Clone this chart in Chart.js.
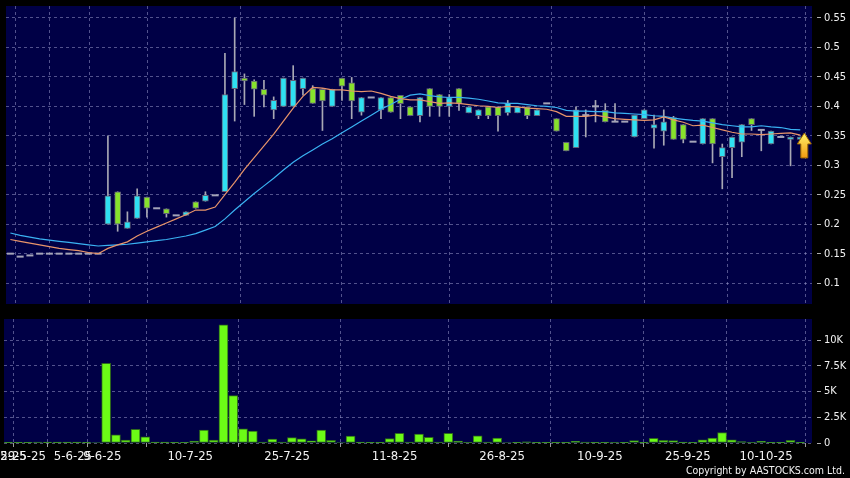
<!DOCTYPE html>
<html>
<head>
<meta charset="utf-8">
<script src="https://cdn.jsdelivr.net/npm/chart.js@4.4.1/dist/chart.umd.min.js"></script>
<style>
    html, body { margin: 0; padding: 0; background: #000; }
    body { width: 850px; height: 478px; position: relative; overflow: hidden; }
    #price { position: absolute; left: 0; top: 0; }
    #vol { position: absolute; left: 0; top: 319px; }
    #copy {
        position: absolute; right: 5px; top: 464px; line-height: 12px;
        color: #f2f2f2; font: 10.5px 'DejaVu Sans Condensed', 'DejaVu Sans', sans-serif;
    }
</style>
</head>
<body>
<canvas id="price" width="850" height="310"></canvas>
<canvas id="vol" width="850" height="159"></canvas>
<div id="copy">Copyright by AASTOCKS.com Ltd.</div>
<script>
'use strict';

// daily OHLC, oldest first
const openP = [
    0.150, 0.145, 0.147, 0.150, 0.150, 0.150, 0.150, 0.150, 0.150, 0.150,
    0.200, 0.255, 0.193, 0.210, 0.246, 0.227, 0.226, 0.215, 0.215, 0.238,
    0.239, 0.249, 0.255, 0.430, 0.448, 0.443, 0.429, 0.394, 0.400, 0.400,
    0.430, 0.430, 0.429, 0.400, 0.448, 0.440, 0.390, 0.415, 0.394, 0.415,
    0.4185, 0.399, 0.384, 0.430, 0.420, 0.400, 0.430, 0.389, 0.384, 0.399,
    0.399, 0.389, 0.389, 0.399, 0.384, 0.405, 0.379, 0.339, 0.330, 0.385,
    0.400, 0.393, 0.374, 0.374, 0.348, 0.379, 0.363, 0.358, 0.381, 0.369,
    0.340, 0.336, 0.379, 0.3145, 0.330, 0.339, 0.379, 0.360, 0.336, 0.348,
    0.344, 0.344
];
const highP = [
    0.150, 0.145, 0.147, 0.150, 0.150, 0.150, 0.150, 0.150, 0.150, 0.150,
    0.350, 0.255, 0.221, 0.260, 0.246, 0.227, 0.226, 0.215, 0.221, 0.238,
    0.255, 0.249, 0.490, 0.550, 0.455, 0.445, 0.444, 0.416, 0.448, 0.469,
    0.448, 0.435, 0.430, 0.429, 0.448, 0.449, 0.415, 0.415, 0.415, 0.415,
    0.4185, 0.399, 0.415, 0.430, 0.420, 0.420, 0.430, 0.399, 0.394, 0.399,
    0.399, 0.410, 0.399, 0.399, 0.394, 0.405, 0.379, 0.339, 0.399, 0.394,
    0.410, 0.4045, 0.4045, 0.374, 0.385, 0.394, 0.385, 0.394, 0.383, 0.369,
    0.340, 0.379, 0.379, 0.336, 0.348, 0.369, 0.379, 0.360, 0.358, 0.348,
    0.348, 0.348
];
const lowP = [
    0.150, 0.145, 0.147, 0.150, 0.150, 0.150, 0.150, 0.150, 0.150, 0.150,
    0.200, 0.188, 0.193, 0.210, 0.212, 0.227, 0.212, 0.215, 0.215, 0.227,
    0.239, 0.249, 0.255, 0.375, 0.403, 0.383, 0.399, 0.379, 0.400, 0.400,
    0.419, 0.405, 0.359, 0.400, 0.410, 0.379, 0.385, 0.415, 0.379, 0.390,
    0.379, 0.384, 0.3735, 0.383, 0.383, 0.383, 0.393, 0.389, 0.379, 0.379,
    0.358, 0.385, 0.389, 0.379, 0.384, 0.405, 0.358, 0.3245, 0.330, 0.348,
    0.3735, 0.3735, 0.374, 0.374, 0.348, 0.379, 0.329, 0.334, 0.344, 0.338,
    0.340, 0.336, 0.304, 0.260, 0.279, 0.3145, 0.359, 0.3245, 0.336, 0.348,
    0.299, 0.344
];
const closeP = [
    0.150, 0.145, 0.147, 0.150, 0.150, 0.150, 0.150, 0.150, 0.150, 0.150,
    0.248, 0.200, 0.204, 0.248, 0.227, 0.227, 0.218, 0.215, 0.221, 0.227,
    0.249, 0.249, 0.420, 0.459, 0.443, 0.429, 0.419, 0.410, 0.448, 0.444,
    0.448, 0.405, 0.409, 0.429, 0.434, 0.409, 0.415, 0.415, 0.415, 0.390,
    0.4045, 0.384, 0.415, 0.400, 0.400, 0.415, 0.405, 0.399, 0.394, 0.384,
    0.384, 0.405, 0.399, 0.384, 0.394, 0.405, 0.358, 0.3245, 0.394, 0.385,
    0.400, 0.3735, 0.374, 0.374, 0.385, 0.394, 0.369, 0.3735, 0.344, 0.344,
    0.340, 0.379, 0.336, 0.330, 0.348, 0.369, 0.369, 0.360, 0.358, 0.348,
    0.348, 0.348
];
// volume, thousands
const volK = [
    0.01, 0.01, 0.01, 0.10, 0.08, 0.08, 0.08, 0.08, 0.01, 0.05,
    7.75, 0.80, 0.29, 1.33, 0.61, 0.08, 0.08, 0.03, 0.06, 0.18,
    1.26, 0.29, 11.5, 4.60, 1.38, 1.17, 0.10, 0.38, 0.10, 0.53,
    0.40, 0.21, 1.26, 0.26, 0.05, 0.68, 0.08, 0.02, 0.02, 0.44,
    0.95, 0.09, 0.87, 0.55, 0.09, 0.95, 0.18, 0.04, 0.70, 0.09,
    0.47, 0.05, 0.01, 0.11, 0.02, 0.01, 0.03, 0.07, 0.17, 0.09,
    0.01, 0.01, 0.04, 0.01, 0.23, 0.07, 0.45, 0.26, 0.23, 0.08,
    0.03, 0.30, 0.48, 1.02, 0.30, 0.14, 0.04, 0.17, 0.02, 0.01,
    0.26, 0.01
];
// 10 and 20 day averages
const ma10 = [
    0.174, 0.171, 0.168, 0.165, 0.162, 0.159, 0.157, 0.155, 0.152, 0.150,
    0.159, 0.165, 0.170, 0.180, 0.188, 0.195, 0.202, 0.209, 0.216, 0.224,
    0.224, 0.229, 0.250, 0.271, 0.293, 0.313, 0.333, 0.353, 0.375, 0.397,
    0.417, 0.432, 0.431, 0.428, 0.428, 0.426, 0.425, 0.426, 0.422, 0.417,
    0.413, 0.411, 0.411, 0.408, 0.405, 0.406, 0.405, 0.403, 0.401, 0.400,
    0.398, 0.400, 0.399, 0.397, 0.396, 0.395, 0.391, 0.383, 0.383, 0.383,
    0.385, 0.382, 0.379, 0.378, 0.377, 0.376, 0.377, 0.382, 0.377, 0.373,
    0.367, 0.368, 0.364, 0.360, 0.356, 0.353, 0.353, 0.352, 0.353, 0.354,
    0.355, 0.351
];
const ma20 = [
    0.185, 0.181, 0.178, 0.175, 0.173, 0.171, 0.169, 0.167, 0.165, 0.163,
    0.164, 0.165, 0.166, 0.168, 0.170, 0.172, 0.174, 0.177, 0.180, 0.184,
    0.190, 0.196, 0.209, 0.224, 0.238, 0.252, 0.265, 0.278, 0.292, 0.305,
    0.316, 0.326, 0.336, 0.345, 0.355, 0.365, 0.375, 0.385, 0.395, 0.403,
    0.412, 0.419, 0.421, 0.418, 0.416, 0.415, 0.415, 0.414, 0.412, 0.409,
    0.406, 0.405, 0.405, 0.403, 0.401, 0.400, 0.398, 0.393, 0.392, 0.392,
    0.391, 0.391, 0.389, 0.388, 0.387, 0.386, 0.384, 0.383, 0.380, 0.378,
    0.376, 0.375, 0.372, 0.369, 0.367, 0.365, 0.365, 0.367, 0.365, 0.364,
    0.361, 0.360
];

// date labels and the bar index they fall on
const dateTicks = ['27-5-25', '29-5-25', '5-6-25', '9-6-25', '10-7-25', '25-7-25',
    '11-8-25', '26-8-25', '10-9-25', '25-9-25', '10-10-25'];
const dateTickAt = [-0.45, 1.5, 6.6, 9.6, 18.6, 28.5, 39.5, 50.5, 60.5, 69.5, 77.5];
const priceTicks = [0.1, 0.15, 0.2, 0.25, 0.3, 0.35, 0.4, 0.45, 0.5, 0.55];
const volTicks = [0, 2.5, 5, 7.5, 10];

const FONT = "'DejaVu Sans Condensed', 'DejaVu Sans', sans-serif";
const GRID = 'rgba(150,150,200,0.55)';
const UP = '#2fe0f2', DOWN = '#88e22c', FLAT = '#a4a4b8';

const idx = closeP.map((_, i) => i);

const plotBg = {
    id: 'plotBg',
    beforeDraw(chart) {
        const { ctx, chartArea: a } = chart;
        ctx.save();
        ctx.fillStyle = '#000046';
        ctx.fillRect(a.left, a.top, a.width, a.height);
        ctx.restore();
    }
};

// yellow "last price" arrow next to the final candle
const lastArrow = {
    id: 'lastArrow',
    afterDatasetsDraw(chart) {
        const { ctx, scales: { x, y } } = chart;
        const i = closeP.length - 1;
        const cx = x.getPixelForValue(i) + 4;
        const top = y.getPixelForValue(closeP[i]) - 4;
        const g = ctx.createLinearGradient(0, top, 0, top + 25);
        g.addColorStop(0, '#fff36a');
        g.addColorStop(1, '#f29a10');
        ctx.save();
        ctx.beginPath();
        ctx.moveTo(cx, top);
        ctx.lineTo(cx + 7, top + 11);
        ctx.lineTo(cx + 3.5, top + 11);
        ctx.lineTo(cx + 3.5, top + 25);
        ctx.lineTo(cx - 3.5, top + 25);
        ctx.lineTo(cx - 3.5, top + 11);
        ctx.lineTo(cx - 7, top + 11);
        ctx.closePath();
        ctx.fillStyle = g;
        ctx.fill();
        ctx.strokeStyle = '#9a6400';
        ctx.lineWidth = 1;
        ctx.stroke();
        ctx.restore();
    }
};

function xAxis(showLabels) {
    return {
        type: 'linear',
        min: -0.45,
        max: 82.2,
        bounds: 'data',
        offset: false,
        afterBuildTicks: s => { s.ticks = dateTickAt.map(v => ({ value: v })); },
        afterFit: s => { s.height = showLabels ? 35 : 5; s.paddingLeft = 0; s.paddingRight = 0; },
        ticks: {
            display: showLabels,
            autoSkip: false,
            maxRotation: 0,
            minRotation: 0,
            padding: 2,
            color: '#f2f2f2',
            font: { family: FONT, size: 13 },
            callback: (v, i) => dateTicks[i]
        },
        grid: { color: GRID, drawTicks: showLabels, tickLength: 4, tickColor: '#9a9a9a' },
        border: { display: false, dash: [3, 3] }
    };
}

function yAxis(min, max, ticks, fmt) {
    return {
        position: 'right',
        min: min,
        max: max,
        bounds: 'data',
        afterBuildTicks: s => { s.ticks = ticks.map(v => ({ value: v })); },
        afterFit: s => { s.width = 38; s.paddingTop = 0; s.paddingBottom = 0; },
        ticks: { color: '#f2f2f2', padding: 3, font: { family: FONT, size: 11 }, callback: fmt },
        grid: { color: GRID, tickLength: 9, tickColor: '#b0b0b0', tickBorderDash: [0, 5, 4, 0] },
        border: { display: false, dash: [3, 3] }
    };
}

const common = {
    responsive: false,
    animation: false,
    devicePixelRatio: 1,
    plugins: { legend: { display: false }, tooltip: { enabled: false } }
};

new Chart(document.getElementById('price'), {
    type: 'bar',
    data: {
        datasets: [
            {
                type: 'line', order: 0, data: idx.map(i => ({ x: i, y: ma10[i] })),
                borderColor: '#e8946a', borderWidth: 1.2, pointRadius: 0, tension: 0
            },
            {
                type: 'line', order: 0, data: idx.map(i => ({ x: i, y: ma20[i] })),
                borderColor: '#3ab2f2', borderWidth: 1.2, pointRadius: 0, tension: 0
            },
            {
                // open == close days
                type: 'line', order: 1, showLine: false,
                data: idx.map(i => ({ x: i, y: openP[i] === closeP[i] ? closeP[i] : null })),
                pointStyle: 'line', pointRadius: 3.5, pointBorderWidth: 2, pointBorderColor: FLAT
            },
            {
                order: 2, grouped: false, barThickness: 6,
                data: idx.map(i => ({
                    x: i,
                    y: openP[i] === closeP[i] ? null : [Math.min(openP[i], closeP[i]), Math.max(openP[i], closeP[i])]
                })),
                backgroundColor: idx.map(i => closeP[i] > openP[i] ? UP : DOWN),
                borderColor: '#606078', borderWidth: 1, borderSkipped: false
            },
            {
                order: 3, grouped: false, barThickness: 1,
                data: idx.map(i => ({ x: i, y: [lowP[i], highP[i]] })),
                backgroundColor: '#a8a8b4', borderWidth: 0
            }
        ]
    },
    options: {
        ...common,
        layout: { padding: { left: 4, top: 5, right: 0, bottom: 0 } },
        scales: {
            x: xAxis(false),
            y: yAxis(0.0646, 0.5702, priceTicks, v => String(v))
        }
    },
    plugins: [plotBg, lastArrow]
});

new Chart(document.getElementById('vol'), {
    type: 'bar',
    data: {
        datasets: [{
            data: idx.map(i => ({ x: i, y: volK[i] })),
            barThickness: 9,
            backgroundColor: '#6cfb16',
            borderColor: '#2e6a1c',
            borderWidth: 1,
            borderSkipped: false
        }]
    },
    options: {
        ...common,
        layout: { padding: { left: 4, top: 0, right: 0, bottom: 0 } },
        scales: {
            x: xAxis(true),
            y: yAxis(0, 12.06, volTicks, v => v === 0 ? '0' : v + 'K')
        }
    },
    plugins: [plotBg]
});
</script>
</body>
</html>
